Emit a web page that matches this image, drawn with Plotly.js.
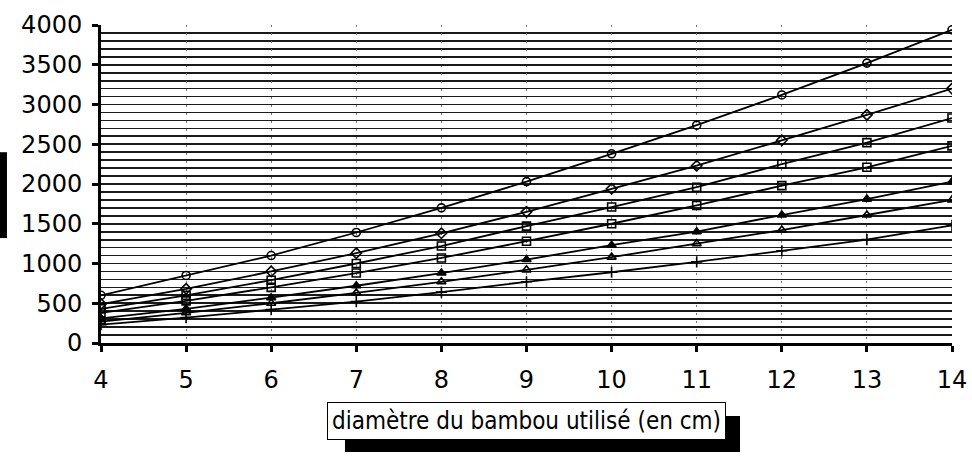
<!DOCTYPE html>
<html>
<head>
<meta charset="utf-8">
<script src="https://cdn.plot.ly/plotly-3.0.1.min.js"></script>
<style>
  html, body { margin: 0; padding: 0; background: #fff; }
  #chart { width: 972px; height: 459px; }
</style>
</head>
<body>
<div id="chart"></div>
<script>
// Diamètre du bambou (cm) en abscisse
const diametres = [4, 5, 6, 7, 8, 9, 10, 11, 12, 13, 14];

// Courbes lues de haut en bas
const serieA = [600, 850, 1100, 1390, 1700, 2030, 2380, 2740, 3120, 3520, 3940];
const serieB = [490, 680, 900, 1130, 1380, 1650, 1940, 2230, 2550, 2870, 3200];
const serieC = [430, 600, 790, 1000, 1220, 1470, 1710, 1960, 2250, 2520, 2830];
const serieD = [380, 530, 700, 880, 1070, 1280, 1500, 1730, 1980, 2210, 2480];
const serieE = [310, 430, 570, 720, 880, 1050, 1230, 1400, 1610, 1810, 2030];
const serieF = [270, 380, 500, 630, 770, 920, 1080, 1250, 1420, 1610, 1800];
const serieG = [230, 320, 420, 520, 640, 770, 890, 1020, 1160, 1300, 1480];

const series = [serieA, serieB, serieC, serieD, serieE, serieF, serieG];
const symboles = ['circle-open', 'diamond-open', 'square-open', 'square-open',
                  'triangle-up', 'triangle-up-open', 'cross-thin-open'];

const yTicks = [0, 500, 1000, 1500, 2000, 2500, 3000, 3500, 4000];
const xTicks = [4, 5, 6, 7, 8, 9, 10, 11, 12, 13, 14];
const titreX = 'diamètre du bambou utilisé (en cm)';

const traces = series.map((vals, i) => ({
  x: diametres,
  y: vals,
  type: 'scatter',
  mode: 'lines+markers',
  line: { color: '#000', width: 1.8 },
  marker: { symbol: symboles[i], size: 8, color: '#000', line: { color: '#000', width: 1.6 } },
  showlegend: false,
  hoverinfo: 'skip'
}));

const tickFont = { family: 'DejaVu Sans, sans-serif', size: 24, color: '#000' };

const layout = {
  width: 972,
  height: 459,
  margin: { l: 101, r: 20, t: 25, b: 116 },
  paper_bgcolor: '#fff',
  plot_bgcolor: '#fff',
  showlegend: false,
  xaxis: {
    range: [4, 14],
    tickvals: xTicks,
    ticktext: xTicks.map(String),
    tickfont: tickFont,
    ticks: 'outside',
    ticklen: 6,
    tickwidth: 3,
    tickcolor: '#000',
    ticklabelstandoff: 7,
    showline: true,
    linecolor: '#000',
    linewidth: 3,
    showgrid: true,
    gridcolor: '#777',
    gridwidth: 1,
    griddash: '2px,6px',
    zeroline: false,
    fixedrange: true
  },
  yaxis: {
    range: [0, 4000],
    tickvals: yTicks,
    ticktext: yTicks.map(String),
    tickfont: tickFont,
    ticks: 'outside',
    ticklen: 6,
    tickwidth: 3,
    tickcolor: '#000',
    ticklabelstandoff: 5,
    showline: true,
    linecolor: '#000',
    linewidth: 3,
    showgrid: true,
    gridcolor: '#1a1a1a',
    gridwidth: 1.7,
    minor: { dtick: 100, showgrid: true, gridcolor: '#1a1a1a', gridwidth: 1.7, ticks: '' },
    zeroline: false,
    fixedrange: true
  },
  shapes: [
    // ombre portée du cadre du titre
    { type: 'rect', xref: 'paper', yref: 'paper', x0: 0.2867, x1: 0.7509, y0: -0.3428, y1: -0.2296,
      fillcolor: '#000', line: { width: 0 }, layer: 'above' },
    // bandeau noir à gauche
    { type: 'rect', xref: 'paper', yref: 'paper', x0: -0.1187, x1: -0.1105, y0: 0.33, y1: 0.60,
      fillcolor: '#000', line: { width: 0 }, layer: 'above' }
  ],
  annotations: [
    { text: titreX, xref: 'paper', yref: 'paper', x: 0.5, y: -0.2453,
      xanchor: 'center', yanchor: 'middle', showarrow: false,
      font: { family: 'DejaVu Sans Condensed, DejaVu Sans, sans-serif', size: 24, color: '#000' },
      bgcolor: '#fff', bordercolor: '#000', borderwidth: 1, borderpad: 4 }
  ]
};

Plotly.newPlot('chart', traces, layout, { staticPlot: true, displayModeBar: false });
</script>
</body>
</html>
